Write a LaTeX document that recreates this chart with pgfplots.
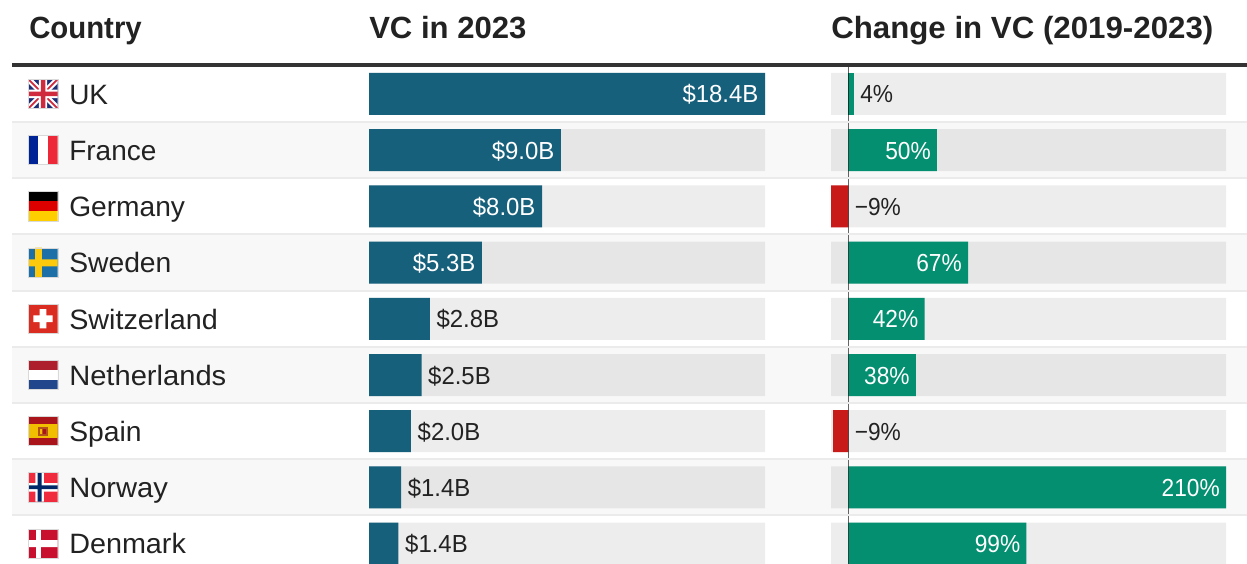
\documentclass[border=0pt]{standalone}
\usepackage{fontspec}
\setmainfont{Liberation Sans}
\usepackage{pgfplots}
\pgfplotsset{compat=1.18}

\definecolor{vcblue}{HTML}{16607C}
\definecolor{upgreen}{HTML}{038F70}
\definecolor{downred}{HTML}{C91A1A}
\definecolor{ink}{HTML}{222222}
\definecolor{stripe}{HTML}{F8F8F8}
\definecolor{sepline}{HTML}{EBEBEB}
\definecolor{ukblue}{HTML}{1F2F75}
\definecolor{ukred}{HTML}{D02A3E}
\definecolor{frblue}{HTML}{002395}
\definecolor{frred}{HTML}{ED2939}
\definecolor{dered}{HTML}{DD0000}
\definecolor{degold}{HTML}{FFCE00}
\definecolor{seblue}{HTML}{1D6FA8}
\definecolor{segold}{HTML}{FCC90D}
\definecolor{chred}{HTML}{DA2C20}
\definecolor{nlred}{HTML}{AD1F2D}
\definecolor{nlblue}{HTML}{21468B}
\definecolor{esred}{HTML}{AA151B}
\definecolor{esgold}{HTML}{F1BF00}
\definecolor{esbrown}{HTML}{B5521B}
\definecolor{nored}{HTML}{EF2B3D}
\definecolor{noblue}{HTML}{002868}
\definecolor{dkred}{HTML}{C8102E}

\newcommand{\rowfont}{\fontsize{21}{24}\selectfont}
\newcommand{\valfont}{\fontsize{18.5}{22}\selectfont}
\newcommand{\headfont}{\fontsize{23}{26}\selectfont\bfseries}

% 1 unit = 1 reference pixel, y runs downwards
\newcommand{\flag}[2]{\begin{scope}[shift={(28.4,#1)}]
  \begin{scope}
    \clip (0,0) rectangle (29.3,29.3);
    #2
  \end{scope}
  \draw[black!15,line width=.3pt] (0,0) rectangle (29.3,29.3);
\end{scope}}

\pgfplotsset{rowbars/.style={
    scale only axis, anchor=north west,
    axis lines=none, ticks=none,
    y dir=reverse, ymin=-0.498, ymax=8.363,
    xbar, bar width=31.5pt, bar shift=0pt,
    height=373.5pt,
    point meta=explicit symbolic,
    every node near coord/.append style={font=\valfont, inner sep=0pt,
      text height=13.5pt, text depth=0pt}},
  inlabel/.style={nodes near coords, every node near coord/.append style={
      anchor=east, xshift=-4.9pt, text=white}},
  outlabel/.style={nodes near coords, every node near coord/.append style={
      anchor=west, xshift=5pt, text=ink}},
  track/.style={fill=black, fill opacity=.07, draw=none, forget plot}}

\begin{document}
\begin{tikzpicture}[x=0.75pt,y=-0.75pt]
\path[use as bounding box] (0,0) rectangle (1247,564);

% row stripes
\fill[stripe] (12,122) rectangle (1247,178.2);
\fill[stripe] (12,234.4) rectangle (1247,290.6);
\fill[stripe] (12,346.8) rectangle (1247,403);
\fill[stripe] (12,459.2) rectangle (1247,515.4);

\coordinate (vc) at (369,66);
\coordinate (chg) at (831,66);

\begin{axis}[rowbars, at={(vc)}, width=297pt, xmin=0, xmax=18.4,
    every node near coord/.append style={xscale=.97}]
  \addplot[track] coordinates {(18.4,0) (18.4,1) (18.4,2) (18.4,3) (18.4,4) (18.4,5) (18.4,6) (18.4,7) (18.4,8)};
  \addplot[fill=vcblue, draw=none, inlabel] coordinates {
    (18.4,0) [\$18.4B]
    (8.92,1) [\$9.0B]
    (8.04,2) [\$8.0B]
    (5.25,3) [\$5.3B]};
  \addplot[fill=vcblue, draw=none, outlabel] coordinates {
    (2.83,4) [\$2.8B]
    (2.44,5) [\$2.5B]
    (1.95,6) [\$2.0B]
    (1.49,7) [\$1.4B]
    (1.37,8) [\$1.4B]};
\end{axis}

\begin{axis}[rowbars, at={(chg)}, width=296.25pt, xmin=-9.73, xmax=210,
    every node near coord/.append style={xscale=.92}]
  \addplot[track] coordinates {(210,0) (210,1) (210,2) (210,3) (210,4) (210,5) (210,6) (210,7) (210,8)};
  \addplot[track] coordinates {(-9.73,0) (-9.73,1) (-9.73,2) (-9.73,3) (-9.73,4) (-9.73,5) (-9.73,6) (-9.73,7) (-9.73,8)};
  \addplot[fill=upgreen, draw=none, inlabel] coordinates {
    (49.2,1) [50\%]
    (66.5,3) [67\%]
    (42.3,4) [42\%]
    (37.5,5) [38\%]
    (210,7) [210\%]
    (99,8) [99\%]};
  \addplot[fill=upgreen, draw=none, outlabel] coordinates {(3,0) [4\%]};
  \addplot[fill=downred, draw=none] coordinates {(-9.73,2) (-8.6,6)};
  % labels of the negative bars sit right of the zero line
  \addplot[fill=none, draw=none, outlabel] coordinates {(0,2) [−9\%] (0,6) [−9\%]};
  % zero line
  \draw[black, opacity=.6, line width=1.3pt] (axis cs:0,-0.498) -- (axis cs:0,8.363);
\end{axis}

% row separators and header rule
\foreach \y in {122,178.2,234.4,290.6,346.8,403,459.2,515.4}
  \fill[sepline] (12,\y-1) rectangle (1247,\y+1);
\fill[black!80] (12,62.5) rectangle (1247,67);

% headers
\node[anchor=base west, inner sep=0pt, text=ink, font=\headfont, xscale=.957] at (29,38) {Country};
\node[anchor=base west, inner sep=0pt, text=ink, font=\headfont, xscale=1.013] at (369,38) {VC in 2023};
\node[anchor=base west, inner sep=0pt, text=ink, font=\headfont, xscale=1.019] at (831,38) {Change in VC (2019-2023)};

% country names
\begin{scope}[every node/.style={anchor=base west, inner sep=0pt, text=ink, font=\rowfont}]
\node at (69,104) {UK};
\node at (69,160.2) {France};
\node[xscale=1.005] at (69,216.8) {Germany};
\node[xscale=1.01] at (69,272.8) {Sweden};
\node[xscale=1.027] at (69,329) {Switzerland};
\node[xscale=1.04] at (69,385) {Netherlands};
\node[xscale=1.01] at (69,441.4) {Spain};
\node[xscale=1.04] at (69,497.6) {Norway};
\node[xscale=1.027] at (69,553.8) {Denmark};
\end{scope}

% flags
\flag{79.2}{
  \fill[ukblue] (0,0) rectangle (29.3,29.3);
  \draw[white,line width=4.4pt] (0,0) -- (29.3,29.3) (29.3,0) -- (0,29.3);
  \draw[ukred,line width=1.3pt] (0,0) -- (29.3,29.3) (29.3,0) -- (0,29.3);
  \fill[white] (10.5,0) rectangle (18.8,29.3) (0,10.5) rectangle (29.3,18.8);
  \fill[ukred] (12.4,0) rectangle (16.9,29.3) (0,12.4) rectangle (29.3,16.9);}
\flag{135.3}{
  \fill[white] (0,0) rectangle (29.3,29.3);
  \fill[frblue] (0,0) rectangle (9.8,29.3);
  \fill[frred] (19.5,0) rectangle (29.3,29.3);}
\flag{191.4}{
  \fill[black] (0,0) rectangle (29.3,9.8);
  \fill[dered] (0,9.8) rectangle (29.3,19.5);
  \fill[degold] (0,19.5) rectangle (29.3,29.3);}
\flag{247.7}{
  \fill[seblue] (0,0) rectangle (29.3,29.3);
  \fill[segold] (6.7,0) rectangle (13.4,29.3) (0,11.6) rectangle (29.3,18.6);}
\flag{304}{
  \fill[chred] (0,0) rectangle (29.3,29.3);
  \fill[white] (11.3,5) rectangle (17.9,24.3) (5,11.3) rectangle (24.3,18);}
\flag{360}{
  \fill[white] (0,0) rectangle (29.3,29.3);
  \fill[nlred] (0,0) rectangle (29.3,9.8);
  \fill[nlblue] (0,19.5) rectangle (29.3,29.3);}
\flag{416.2}{
  \fill[esred] (0,0) rectangle (29.3,29.3);
  \fill[esgold] (0,7.3) rectangle (29.3,22);
  \fill[esbrown] (9.6,10.7) rectangle (19.5,20);
  \fill[esgold] (11.8,12.5) rectangle (13.5,18);
  \fill[esred] (14.8,12.5) rectangle (17.5,18);}
\flag{472.4}{
  \fill[nored] (0,0) rectangle (29.3,29.3);
  \fill[white] (7,0) rectangle (15.5,29.3) (0,10.6) rectangle (29.3,19.2);
  \fill[noblue] (9.2,0) rectangle (13.2,29.3) (0,13) rectangle (29.3,16.8);}
\flag{528.7}{
  \fill[dkred] (0,0) rectangle (29.3,29.3);
  \fill[white] (7.7,0) rectangle (12.5,29.3) (0,11.4) rectangle (29.3,18.4);}
\end{tikzpicture}
\end{document}
